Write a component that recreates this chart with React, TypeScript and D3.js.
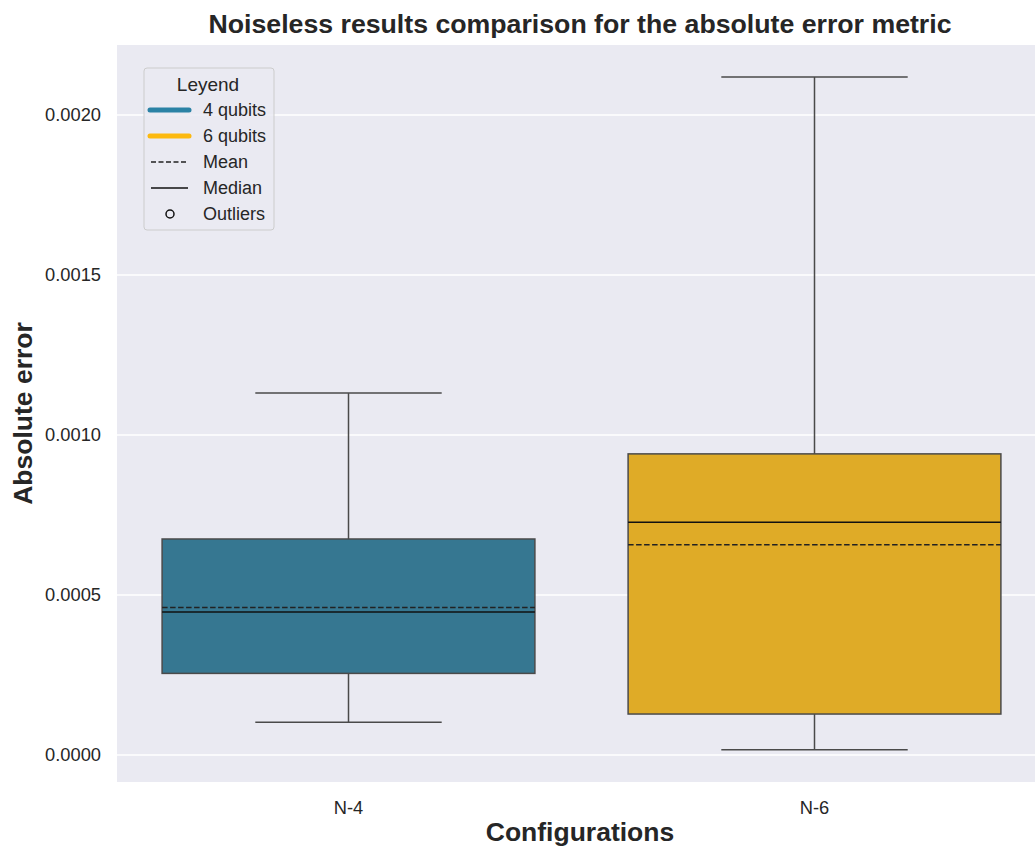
import * as d3 from 'd3';

// box statistics
const categories = ['N-4', 'N-6'];
const lowWhisker = [0.000102, 0.0000166];
const q1 = [0.000255, 0.000128];
const medians = [0.000447, 0.000727];
const means = [0.000461, 0.000657];
const q3 = [0.000675, 0.000941];
const highWhisker = [0.001131, 0.002119];
const boxColors = ['#367791', '#dfab27'];
const yTicks = [0, 0.0005, 0.001, 0.0015, 0.002];

const legendItems = [
  { label: '4 qubits', kind: 'thick', color: '#2b82a5' },
  { label: '6 qubits', kind: 'thick', color: '#fcb90f' },
  { label: 'Mean', kind: 'dash', color: '#222' },
  { label: 'Median', kind: 'solid', color: '#111' },
  { label: 'Outliers', kind: 'circle', color: '#111' },
];

const W = 1035;
const H = 847;
const margin = { left: 117, right: 0, top: 45, bottom: 65 };
const font = 'Arial, "Liberation Sans", sans-serif';

export default function App() {
  // the original figure is cropped on the right, so the x range runs past the edge
  const x = d3
    .scaleBand()
    .domain(categories)
    .range([115.5, 1047.5])
    .padding(0);
  const y = d3
    .scaleLinear()
    .domain([-0.0000844, 0.00221875])
    .range([H - margin.bottom, margin.top]);

  const boxW = x.bandwidth() * 0.8;
  const capW = boxW / 2;

  return (
    <svg
      width={W}
      height={H}
      style={{ position: 'absolute', left: 0, top: 0, fontFamily: font }}
    >
      <rect
        x={margin.left}
        y={margin.top}
        width={W - margin.left - margin.right}
        height={H - margin.top - margin.bottom}
        fill="#eaeaf2"
      />
      {yTicks.map((t) => (
        <g key={t}>
          <line
            x1={margin.left}
            x2={W - margin.right}
            y1={y(t)}
            y2={y(t)}
            stroke="#fff"
            strokeWidth={1.3}
          />
          <text
            x={margin.left - 16}
            y={y(t)}
            dy="0.35em"
            textAnchor="end"
            fontSize={18.3}
            fill="#262626"
          >
            {d3.format('.4f')(t)}
          </text>
        </g>
      ))}

      {categories.map((c, i) => {
        const cx = x(c)! + x.bandwidth() / 2;
        const left = cx - boxW / 2;
        return (
          <g key={c}>
            <line x1={cx} x2={cx} y1={y(q3[i])} y2={y(highWhisker[i])} stroke="#4a4a4a" strokeWidth={1.5} />
            <line x1={cx} x2={cx} y1={y(q1[i])} y2={y(lowWhisker[i])} stroke="#4a4a4a" strokeWidth={1.5} />
            <line x1={cx - capW / 2} x2={cx + capW / 2} y1={y(highWhisker[i])} y2={y(highWhisker[i])} stroke="#4a4a4a" strokeWidth={1.5} />
            <line x1={cx - capW / 2} x2={cx + capW / 2} y1={y(lowWhisker[i])} y2={y(lowWhisker[i])} stroke="#4a4a4a" strokeWidth={1.5} />
            <rect
              x={left}
              y={y(q3[i])}
              width={boxW}
              height={y(q1[i]) - y(q3[i])}
              fill={boxColors[i]}
              stroke="#4a4a4a"
              strokeWidth={1.5}
            />
            <line x1={left} x2={left + boxW} y1={y(medians[i])} y2={y(medians[i])} stroke="#111" strokeWidth={1.5} />
            <line
              x1={left}
              x2={left + boxW}
              y1={y(means[i])}
              y2={y(means[i])}
              stroke="#222"
              strokeWidth={1.5}
              strokeDasharray="5.5,2.5"
            />
            <text
              x={cx}
              y={H - margin.bottom + 32}
              textAnchor="middle"
              fontSize={18.3}
              fill="#262626"
            >
              {c}
            </text>
          </g>
        );
      })}

      {/* legend */}
      <g>
        <rect x={144} y={68} width={130} height={162} rx={3} fill="#eaeaf2" fillOpacity={0.85} stroke="#cccccc" />
        <text x={208} y={84} dy="0.35em" textAnchor="middle" fontSize={19} fill="#262626">
          Leyend
        </text>
        {legendItems.map((d, i) => {
          const ly = 110 + i * 26;
          return (
            <g key={d.label}>
              {d.kind === 'thick' && (
                <line x1={150} x2={189} y1={ly} y2={ly} stroke={d.color} strokeWidth={5} strokeLinecap="round" />
              )}
              {d.kind === 'dash' && (
                <line x1={151} x2={188} y1={ly} y2={ly} stroke={d.color} strokeWidth={1.5} strokeDasharray="5,2.5" />
              )}
              {d.kind === 'solid' && (
                <line x1={151} x2={188} y1={ly} y2={ly} stroke={d.color} strokeWidth={1.5} />
              )}
              {d.kind === 'circle' && (
                <circle cx={170} cy={ly} r={4} fill="none" stroke={d.color} strokeWidth={1.5} />
              )}
              <text x={203} y={ly} dy="0.35em" fontSize={18} fill="#262626">
                {d.label}
              </text>
            </g>
          );
        })}
      </g>

      <text
        x={(margin.left + W) / 2 + 4}
        y={33}
        textAnchor="middle"
        fontSize={26.7}
        fontWeight="bold"
        fill="#262626"
      >
        Noiseless results comparison for the absolute error metric
      </text>
      <text
        x={(margin.left + W) / 2 + 4}
        y={841}
        textAnchor="middle"
        fontSize={26.5}
        fontWeight="bold"
        fill="#262626"
      >
        Configurations
      </text>
      <text
        transform={`translate(32, ${(margin.top + H - margin.bottom) / 2}) rotate(-90)`}
        textAnchor="middle"
        fontSize={26.5}
        fontWeight="bold"
        fill="#262626"
      >
        Absolute error
      </text>
    </svg>
  );
}
